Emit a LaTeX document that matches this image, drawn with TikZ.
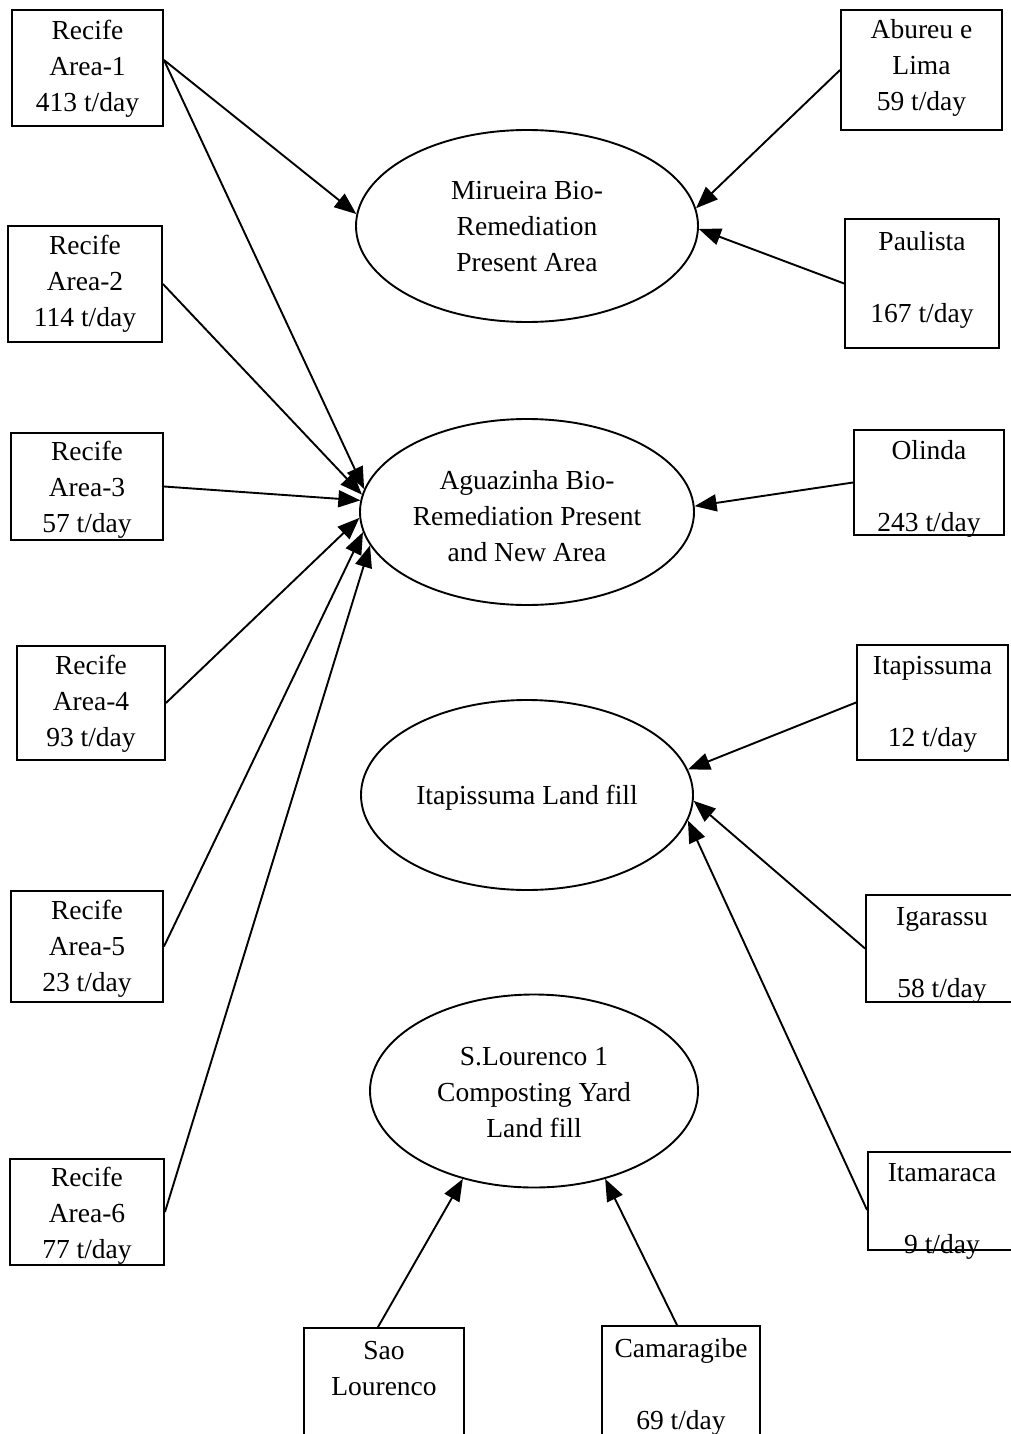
\documentclass[tikz,border=0pt]{standalone}
\usepackage{fontspec}
\setmainfont{Liberation Serif}
\usetikzlibrary{shapes.geometric,arrows.meta}
\begin{document}
\begin{tikzpicture}[x=1pt,y=-1pt,
  every node/.style={font=\fontsize{27.5}{36}\selectfont, inner sep=0pt, align=center},
  srcbox/.style={draw, line width=1.9pt, rectangle},
  sink/.style={draw, line width=1.9pt, ellipse},
  flow/.style={line width=1.9pt, -{Triangle[length=22pt,width=17pt]}}]
\clip (0,0) rectangle (1011,1434);
\fill[white] (0,0) rectangle (1011,1434);

% ellipses
\node[sink, minimum width=342pt, minimum height=192pt] (mir) at (527,226) {};
\node (mirT) at ([yshift=-1pt]mir.center) {Mirueira Bio-\\Remediation\\Present Area};
\node[sink, minimum width=334pt, minimum height=186pt] (agu) at (527,512) {};
\node (aguT) at ([yshift=-4pt]agu.center) {Aguazinha Bio-\\Remediation Present\\and New Area};
\node[sink, minimum width=332pt, minimum height=190pt] (ita) at (527,795) {};
\node (itaT) at ([yshift=-3pt]ita.center) {Itapissuma Land fill};
\node[sink, minimum width=328pt, minimum height=193pt] (slo) at (534,1091) {};
\node (sloT) at ([yshift=-2pt]slo.center) {S.Lourenco 1\\Composting Yard\\Land fill};

% left boxes
\node[srcbox, minimum width=151pt, minimum height=116pt] (a1) at (87.5,68) {};
\node (a1T) at ([yshift=-1pt]a1.center) {Recife\\Area-1\\413 t/day};
\node[srcbox, minimum width=154pt, minimum height=116pt] (a2) at (85,284) {};
\node (a2T) at (a2.center) {Recife\\Area-2\\114 t/day};
\node[srcbox, minimum width=152pt, minimum height=107pt] (a3) at (87,486.5) {};
\node (a3T) at ([yshift=-3pt]a3.center) {Recife\\Area-3\\57 t/day};
\node[srcbox, minimum width=148pt, minimum height=114pt] (a4) at (91,703) {};
\node (a4T) at ([yshift=-1pt]a4.center) {Recife\\Area-4\\93 t/day};
\node[srcbox, minimum width=152pt, minimum height=111pt] (a5) at (87,946.5) {};
\node (a5T) at ([yshift=-2pt]a5.center) {Recife\\Area-5\\23 t/day};
\node[srcbox, minimum width=154pt, minimum height=106pt] (a6) at (87,1212) {};
\node (a6T) at ([yshift=-4pt]a6.center) {Recife\\Area-6\\77 t/day};

% right boxes
\node[srcbox, minimum width=161pt, minimum height=120pt] (ab) at (921.5,70) {};
\node (abT) at ([yshift=2pt]ab.center) {Abureu e\\Lima\\59 t/day};
\node[srcbox, minimum width=154pt, minimum height=129pt] (pa) at (922,283.5) {};
\node (paT) at ([yshift=4pt]pa.center) {Paulista\\~\\167 t/day};
\node[srcbox, minimum width=150pt, minimum height=105pt] (ol) at (929,482.5) {};
\node (olT) at ([yshift=-6pt]ol.center) {Olinda\\~\\243 t/day};
\node[srcbox, minimum width=151pt, minimum height=115pt] (it) at (932.5,702.5) {};
\node (itT) at ([yshift=-2pt]it.center) {Itapissuma\\~\\12 t/day};
\node[srcbox, minimum width=152pt, minimum height=107pt] (ig) at (942,948.5) {};
\node (igT) at ([yshift=-7pt]ig.center) {Igarassu\\~\\58 t/day};
\node[srcbox, minimum width=148pt, minimum height=98pt] (im) at (942,1201) {};
\node (imT) at ([yshift=-10pt]im.center) {Itamaraca\\~\\9 t/day};

% bottom boxes
\node[srcbox, minimum width=160pt, minimum height=116pt] (sl) at (384,1386) {};
\node (slT) at (sl.center) {Sao\\Lourenco\\~};
\node[srcbox, minimum width=158pt, minimum height=116pt] (cg) at (681,1384) {};
\node (cgT) at ([yshift=-3pt]cg.center) {Camaragibe\\~\\69 t/day};

% connectors
\draw[flow] ([yshift=8pt]a1.east) -- (mir.176);
\draw[flow] ([yshift=8pt]a1.east) -- (agu.172);
\draw[flow] (a2.east) -- (agu.174);
\draw[flow] (a3.east) -- (agu.176);
\draw[flow] (a4.east) -- (agu.182);
\draw[flow] (a5.east) -- (agu.187);
\draw[flow] (a6.east) -- (agu.192);
\draw[flow] (ab.west) -- (mir.6);
\draw[flow] (pa.west) -- (mir.-1);
\draw[flow] (ol.west) -- (agu.2);
\draw[flow] (it.west) -- (ita.9);
\draw[flow] (ig.west) -- (ita.-2);
\draw[flow] ([yshift=-9pt]im.west) -- (ita.-9);
\draw[flow] ([xshift=-6pt]sl.north) -- (slo.231);
\draw[flow] ([xshift=-4pt]cg.north) -- (slo.309);
\end{tikzpicture}
\end{document}
